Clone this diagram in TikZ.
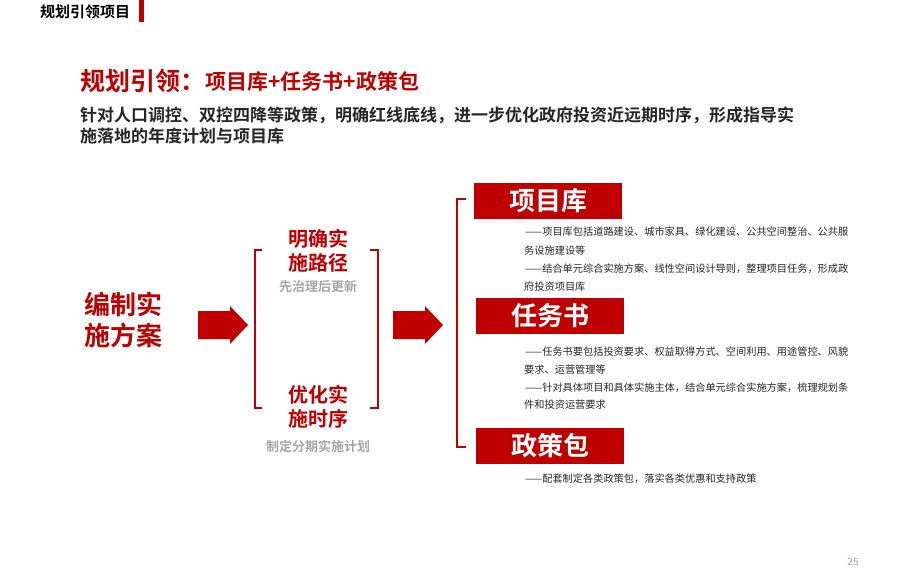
\documentclass[tikz,border=0pt]{standalone}
\usepackage{fontspec}
\setmainfont{Noto Sans CJK SC}
\newfontfamily\cjkb{Noto Sans CJK SC Bold}
\begin{document}
\begin{tikzpicture}[x=1pt,y=-1pt]
\definecolor{myred}{HTML}{C00000}
\definecolor{dk}{HTML}{262626}
\definecolor{gr}{HTML}{A6A6A6}
\tikzset{
 redtxt/.style={text=myred,font=\cjkb\fontsize{20}{24}\selectfont,align=center,inner sep=0},
 desc/.style={anchor=west,text=dk,font=\fontsize{10.2}{12}\selectfont,inner sep=0},
 sub/.style={text=gr,font=\cjkb\fontsize{13}{15}\selectfont,inner sep=0},
 bigarrow/.style={fill=myred,draw=none},
 brk/.style={draw=myred,line width=2.4pt},
 tagbox/.style={fill=myred,text=white,font=\cjkb\fontsize{26}{28}\selectfont,minimum width=148pt,minimum height=36pt,inner sep=0}
}
\fill[white] (0,0) rectangle (900,578);
\node[anchor=west,inner sep=0,text=black,font=\cjkb\fontsize{15}{17}\selectfont] (hd) at (40,12) {规划引领项目};
\fill[myred] (139,0) rectangle (144,22);
\node[anchor=west,inner sep=0,text=myred,font=\cjkb\fontsize{25}{28}\selectfont] (t1) at (80,81) {规划引领：};
\node[anchor=west,inner sep=0,text=myred,font=\cjkb\fontsize{21}{24}\selectfont] (t2) at (t1.east) {项目库+任务书+政策包};
\node[anchor=west,inner sep=0,text=dk,font=\cjkb\fontsize{17}{20}\selectfont] (s1) at (80,115) {针对人口调控、双控四降等政策，明确红线底线，进一步优化政府投资近远期时序，形成指导实};
\node[anchor=west,inner sep=0,text=dk,font=\cjkb\fontsize{17}{20}\selectfont] (s2) at (80,136) {施落地的年度计划与项目库};
\node[redtxt,font=\cjkb\fontsize{26}{31}\selectfont] (bz) at (123,320) {编制实\\施方案};
\fill[bigarrow] (198,311) -- (230,311) -- (230,306) -- (248,325) -- (230,344) -- (230,339) -- (198,339) -- cycle;
\fill[bigarrow] (393,311) -- (425,311) -- (425,306) -- (443,325) -- (425,344) -- (425,339) -- (393,339) -- cycle;
\draw[brk] (262,250) -- (255,250) -- (255,408) -- (262,408);
\draw[brk] (370,250) -- (378,250) -- (378,408) -- (370,408);
\node[redtxt,font=\cjkb\fontsize{20}{24}\selectfont] (mq) at (318,251) {明确实\\施路径};
\node[sub] (mqs) at (318,287) {先治理后更新};
\node[redtxt,font=\cjkb\fontsize{20}{24}\selectfont] (yh) at (318,407) {优化实\\施时序};
\node[sub] (yhs) at (318,446) {制定分期实施计划};
\draw[brk] (466,199) -- (457,199) -- (457,447) -- (466,447);
\node[tagbox] (xm) at (548,201) {项目库};
\node[tagbox] (rw) at (550,316) {任务书};
\node[tagbox] (zc) at (550,446) {政策包};
\node[desc] (d1) at (525,232) {——项目库包括道路建设、城市家具、绿化建设、公共空间整治、公共服};
\node[desc] (d2) at (524,251) {务设施建设等};
\node[desc] (d3) at (525,269) {——结合单元综合实施方案、线性空间设计导则，整理项目任务，形成政};
\node[desc] (d4) at (524,287) {府投资项目库};
\node[desc] (d5) at (525,352) {——任务书要包括投资要求、权益取得方式、空间利用、用途管控、风貌};
\node[desc] (d6) at (524,370) {要求、运营管理等};
\node[desc] (d7) at (525,388) {——针对具体项目和具体实施主体，结合单元综合实施方案，梳理规划条};
\node[desc] (d8) at (524,405) {件和投资运营要求};
\node[desc] (d9) at (525,479) {——配套制定各类政策包，落实各类优惠和支持政策};
\node[text=gr,font=\fontsize{10}{12}\selectfont,inner sep=0] (pg) at (853,562) {25};
\end{tikzpicture}
\end{document}
